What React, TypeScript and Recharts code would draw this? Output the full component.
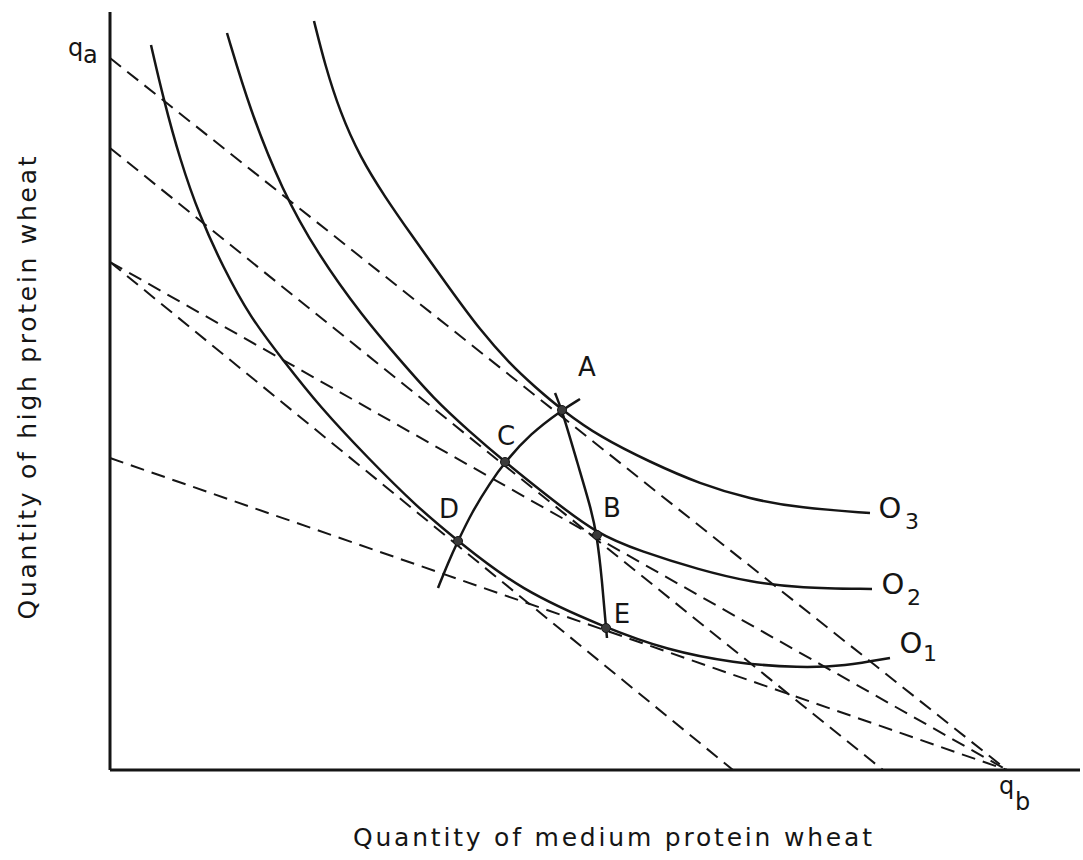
import React from 'react';
import { ComposedChart, Line, Scatter, XAxis, YAxis } from 'recharts';

// Data units: x = quantity of medium protein wheat, y = quantity of high protein wheat
// (arbitrary units, origin at the axes' corner)

const isoquantO1 = [
  { x: 41, y: 725 }, { x: 53, y: 673 }, { x: 70, y: 610 }, { x: 90, y: 553 },
  { x: 113, y: 503 }, { x: 140, y: 453 }, { x: 173, y: 410 }, { x: 210, y: 363 },
  { x: 257, y: 313 }, { x: 307, y: 263 }, { x: 348, y: 229 }, { x: 410, y: 180 },
  { x: 496, y: 142 }, { x: 557, y: 120 }, { x: 623, y: 107 }, { x: 690, y: 102 },
  { x: 735, y: 104 }, { x: 780, y: 112 },
];

const isoquantO2 = [
  { x: 117, y: 737 }, { x: 140, y: 660 }, { x: 172, y: 580 }, { x: 207, y: 517 },
  { x: 253, y: 453 }, { x: 290, y: 410 }, { x: 323, y: 372 }, { x: 360, y: 338 },
  { x: 395, y: 308 }, { x: 440, y: 272 }, { x: 487, y: 236 }, { x: 530, y: 219 },
  { x: 590, y: 200 }, { x: 640, y: 188 }, { x: 690, y: 182 }, { x: 762, y: 181 },
];

const isoquantO3 = [
  { x: 204, y: 749 }, { x: 215, y: 705 }, { x: 230, y: 658 }, { x: 250, y: 613 },
  { x: 275, y: 573 }, { x: 300, y: 537 }, { x: 340, y: 481 }, { x: 370, y: 440 },
  { x: 400, y: 406 }, { x: 425, y: 383 }, { x: 452, y: 360 }, { x: 490, y: 333 },
  { x: 540, y: 308 }, { x: 590, y: 286 }, { x: 640, y: 271 }, { x: 690, y: 262 },
  { x: 760, y: 257 },
];

// expansion paths
const pathACD = [
  { x: 328, y: 182 }, { x: 338, y: 207 }, { x: 348, y: 229 }, { x: 362, y: 258 },
  { x: 380, y: 287 }, { x: 395, y: 308 }, { x: 420, y: 336 }, { x: 452, y: 360 },
  { x: 470, y: 371 },
];

const pathABE = [
  { x: 445, y: 377 }, { x: 452, y: 360 }, { x: 468, y: 305 }, { x: 480, y: 265 },
  { x: 487, y: 235 }, { x: 492, y: 190 }, { x: 496, y: 142 }, { x: 497, y: 132 },
];

// iso-cost (price) lines: intercepts on the two axes
const priceLine1 = [{ x: 0, y: 712 }, { x: 897, y: 0 }];
const priceLine2 = [{ x: 0, y: 622 }, { x: 773, y: 0 }];
const priceLine3 = [{ x: 0, y: 508 }, { x: 897, y: 0 }];
const priceLine4 = [{ x: 0, y: 508 }, { x: 623, y: 0 }];
const priceLine5 = [{ x: 0, y: 312 }, { x: 897, y: 0 }];

const tangencyPoints = [
  { x: 452, y: 360, name: 'A' },
  { x: 487, y: 235, name: 'B' },
  { x: 395, y: 308, name: 'C' },
  { x: 348, y: 229, name: 'D' },
  { x: 496, y: 142, name: 'E' },
];

const isoquantNames = ['O', 'O', 'O'];
const isoquantSubs = ['1', '2', '3'];

const xTitle = 'Quantity of medium protein wheat';
const yTitle = 'Quantity of high protein wheat';

// ---- styles (pixel offsets for annotations) ----
const INK = '#151515';
const FONT = '"DejaVu Sans", sans-serif';
const pointLabelOffset: Record<string, [number, number]> = {
  A: [25, -43],
  B: [15, -27],
  C: [1, -26],
  D: [-9, -32],
  E: [16, -14],
};
const isoLabelOffset: [number, number, number, number][] = [
  // [O dx, O dy, sub dx, sub dy] relative to curve end
  [21, -15, 40, -5],
  [21, -5, 42, 8],
  [20, -5, 42, 8],
];

const curves = [isoquantO1, isoquantO2, isoquantO3];
const curveEnds = curves.map((c, i) => ({
  ...c[c.length - 1],
  name: isoquantNames[i],
  sub: isoquantSubs[i],
  idx: i,
}));

const axisIntercepts = [
  { ...priceLine1[0], name: 'q', sub: 'a', kind: 'y' },
  { ...priceLine1[1], name: 'q', sub: 'b', kind: 'x' },
];

const DotShape = (props: any) => {
  const { cx, cy, payload } = props;
  const off = pointLabelOffset[payload.name] || [0, 0];
  return (
    <g>
      <circle cx={cx} cy={cy} r={4.5} fill="#3a3a3a" stroke={INK} strokeWidth={1} />
      <text
        x={cx + off[0]}
        y={cy + off[1]}
        textAnchor="middle"
        dominantBaseline="central"
        fontFamily={FONT}
        fontSize={26}
        fill={INK}
      >
        {payload.name}
      </text>
    </g>
  );
};

const IsoLabelShape = (props: any) => {
  const { cx, cy, payload } = props;
  const o = isoLabelOffset[payload.idx];
  return (
    <g>
      <text x={cx + o[0]} y={cy + o[1]} textAnchor="middle" dominantBaseline="central"
        fontFamily={FONT} fontSize={29} fill={INK}>{payload.name}</text>
      <text x={cx + o[2]} y={cy + o[3]} textAnchor="middle" dominantBaseline="central"
        fontFamily={FONT} fontSize={22} fill={INK}>{payload.sub}</text>
    </g>
  );
};

const InterceptShape = (props: any) => {
  const { cx, cy, payload } = props;
  if (payload.kind === 'y') {
    return (
      <g fontFamily={FONT} fill={INK}>
        <text x={cx - 42} y={cy - 2} fontSize={24}>{payload.name}</text>
        <text x={cx - 27} y={cy + 5} fontSize={24}>{payload.sub}</text>
      </g>
    );
  }
  return (
    <g fontFamily={FONT} fill={INK}>
      <text x={cx - 8} y={cy + 24} fontSize={24}>{payload.name}</text>
      <text x={cx + 8} y={cy + 40} fontSize={24}>{payload.sub}</text>
    </g>
  );
};

const XTitle = (props: any) => {
  const vb = props.viewBox;
  return (
    <text x={vb.x + vb.width * 0.518} y={vb.y + 76} textAnchor="middle"
      fontFamily={FONT} fontSize={25} fill={INK}
      textLength={519} lengthAdjust="spacing">{xTitle}</text>
  );
};

const YTitle = (props: any) => {
  const vb = props.viewBox;
  const cx = 36;
  const cy = vb.y + vb.height * 0.496;
  return (
    <text x={cx} y={cy} textAnchor="middle" transform={`rotate(-90 ${cx} ${cy})`}
      fontFamily={FONT} fontSize={25} fill={INK}
      textLength={463} lengthAdjust="spacing">{yTitle}</text>
  );
};

const priceLines = [priceLine1, priceLine2, priceLine3, priceLine4, priceLine5];

export default function App() {
  return (
    <div style={{ position: 'absolute', left: 0, top: 0, width: 1083, height: 860, background: '#fff' }}>
      <ComposedChart width={1083} height={860} margin={{ top: 12, right: 3, bottom: 0, left: 0 }}>
        <XAxis
          type="number"
          dataKey="x"
          domain={[0, 970]}
          height={90}
          tick={false}
          tickLine={false}
          axisLine={{ stroke: INK, strokeWidth: 3 }}
          label={<XTitle />}
        />
        <YAxis
          type="number"
          dataKey="y"
          domain={[0, 758]}
          width={110}
          tick={false}
          tickLine={false}
          axisLine={{ stroke: INK, strokeWidth: 3 }}
          label={<YTitle />}
        />
        {priceLines.map((d, i) => (
          <Line key={`p${i}`} data={d} dataKey="y" type="linear" stroke={INK} strokeWidth={2}
            strokeDasharray="14 8" dot={false} activeDot={false} isAnimationActive={false} />
        ))}
        {curves.map((d, i) => (
          <Line key={`o${i}`} data={d} dataKey="y" type="basis" stroke={INK} strokeWidth={2.5}
            dot={false} activeDot={false} isAnimationActive={false} />
        ))}
        <Line data={pathACD} dataKey="y" type="basis" stroke={INK} strokeWidth={2.5}
          dot={false} activeDot={false} isAnimationActive={false} />
        <Line data={pathABE} dataKey="y" type="basis" stroke={INK} strokeWidth={2.5}
          dot={false} activeDot={false} isAnimationActive={false} />
        <Scatter data={tangencyPoints} shape={<DotShape />} isAnimationActive={false} />
        <Scatter data={curveEnds} shape={<IsoLabelShape />} isAnimationActive={false} />
        <Scatter data={axisIntercepts} shape={<InterceptShape />} isAnimationActive={false} />
      </ComposedChart>
    </div>
  );
}
